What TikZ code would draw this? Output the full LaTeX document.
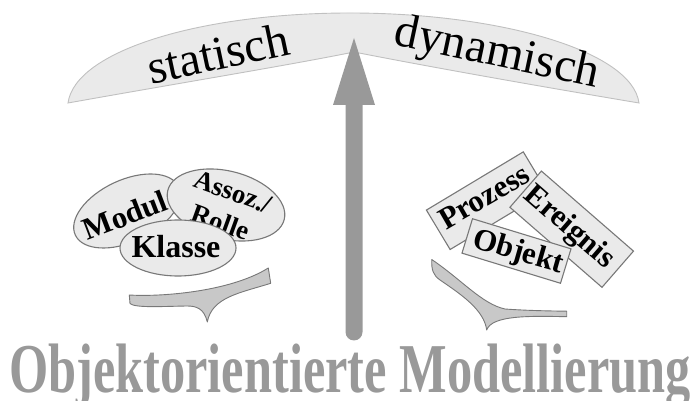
\documentclass[tikz,border=0pt]{standalone}
\usepackage{fontspec}
\setmainfont{Liberation Serif}
\usetikzlibrary{shapes.geometric}

\definecolor{bannerfill}{RGB}{234,234,234}
\definecolor{bannerline}{RGB}{192,192,192}
\definecolor{boxfill}{RGB}{234,234,234}
\definecolor{boxline}{RGB}{120,120,120}
\definecolor{bracefill}{RGB}{200,200,200}
\definecolor{arrowgray}{RGB}{153,153,153}

\begin{document}
\begin{tikzpicture}[x=1pt,y=1pt,
  bubble/.style={ellipse, draw=boxline, fill=boxfill, line width=1.1pt, inner sep=0pt},
  card/.style={rectangle, draw=boxline, fill=boxfill, line width=1.1pt, inner sep=0pt},
  word/.style={font=\fontsize{31}{31}\selectfont\bfseries, inner sep=0pt},
  smallword/.style={font=\fontsize{27}{27}\selectfont\bfseries, inner sep=0pt},
  bigword/.style={font=\fontsize{48}{48}\selectfont, inner sep=0pt},
  brace/.style={draw=boxline, fill=bracefill, line width=0.9pt, line join=round}]
\useasboundingbox (0,0) rectangle (696,401);

% curved banner at the top
\draw[fill=bannerfill, draw=bannerline, line width=0.9pt]
  (68,298) .. controls (75,350) and (200,388) .. (350,388)
  .. controls (500,388) and (632,350) .. (639,298)
  .. controls (520,318) and (420,336) .. (354,349)
  .. controls (290,336) and (180,318) .. (68,298) -- cycle;
\node[bigword, rotate=12] (stat) at (218,348) {statisch};
\node[bigword, rotate=-12] (dyn) at (497,346) {dynamisch};

% upward block arrow
\fill[arrowgray] (354,363) -- (375,296) -- (362.5,296) -- (362.5,69)
  arc[start angle=0, end angle=-180, radius=8.5] -- (345.5,296) -- (333,296) -- cycle;

% static concepts: ellipses
\node[bubble, minimum width=114pt, minimum height=62pt, rotate=25] (modul) at (127,190) {};
\node[bubble, minimum width=120pt, minimum height=68pt, rotate=-14] (assoz) at (226,196) {};
\node[word, rotate=21] (modultxt) at (125,186) {Modul};
\node[smallword, rotate=-20] (assoztxt) at (233,209) {Assoz./};
\node[smallword, rotate=-20] (rolletxt) at (221,179) {Rolle};
\node[bubble, minimum width=116pt, minimum height=56pt] (klasse) at (178,153) {};
\node[word, font=\fontsize{32}{32}\selectfont\bfseries] (klassetxt) at (176,154) {Klasse};

% dynamic concepts: cards
\node[card, minimum width=113pt, minimum height=46pt, rotate=31] (prozess) at (486.7,200.3) {};
\node[card, minimum width=122pt, minimum height=48pt, rotate=-41] (ereignis) at (571.7,171.8) {};
\node[card, minimum width=103pt, minimum height=36pt, rotate=-17] (objekt) at (516.5,150) {};
\node[word, rotate=30] (prozesstxt) at (484,204.3) {Prozess};
\node[word, rotate=-41] (ereignistxt) at (569,173) {Ereignis};
\node[word, rotate=-16] (objekttxt) at (518,148) {Objekt};

% braces under the two groups
\draw[brace] (129.3,106) .. controls (160,104) and (230,109) .. (268.3,133)
  -- (270.7,117.7) .. controls (240,108) and (212,104) .. (207.3,79)
  .. controls (204,93) and (196,95) .. (186.7,95)
  .. controls (160,94.5) and (135,93) .. (130,97.5) -- cycle;
\draw[brace] (431.7,141.5) .. controls (462,121) and (482,97) .. (505,92)
  .. controls (525,90.5) and (550,90) .. (566.7,89.8)
  -- (566.7,84.3) .. controls (530,85) and (492,86) .. (486.7,71)
  .. controls (484,91) and (462,106) .. (440,121)
  .. controls (433,126) and (431.5,131) .. (431.7,141.5) -- cycle;

% title
\node[font=\fontsize{70}{70}\selectfont\bfseries, text=arrowgray, anchor=base, inner sep=0pt]
  (title) at (350,8) {\scalebox{0.72}[1]{Objektorientierte Modellierung}};
\end{tikzpicture}
\end{document}
